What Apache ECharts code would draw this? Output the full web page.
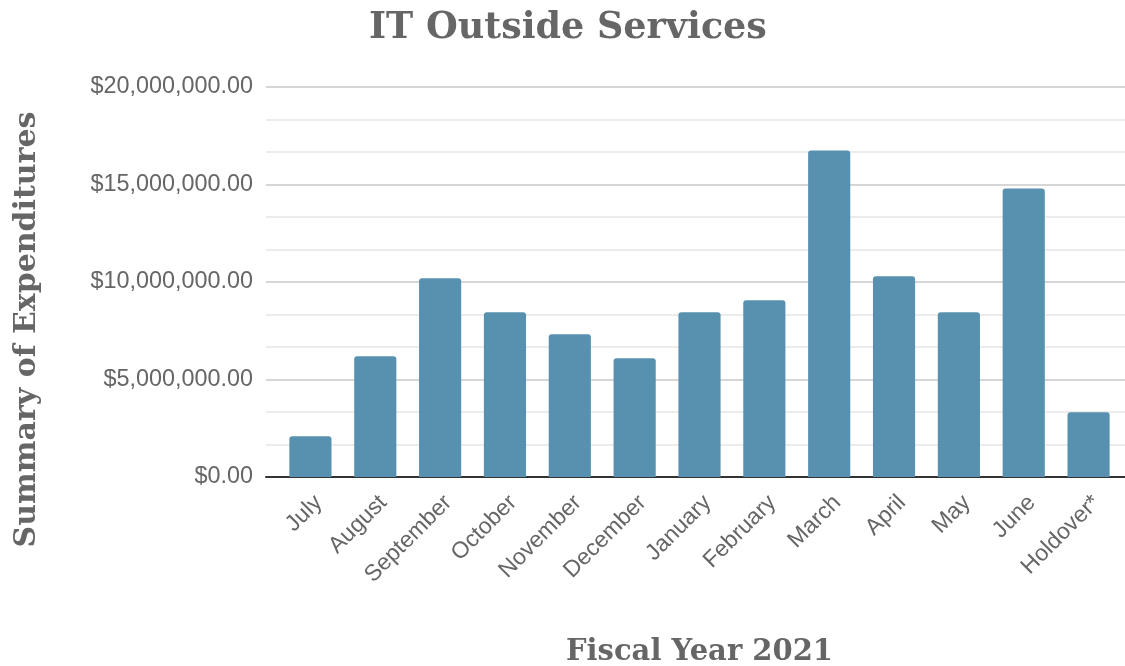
<!DOCTYPE html>
<html><head><meta charset="utf-8">
<script src="https://cdn.jsdelivr.net/npm/echarts@6/dist/echarts.min.js"></script>
<style>html,body{margin:0;padding:0;background:#fff}#c{width:1125px;height:666px}</style>
</head><body><div id="c"></div>
<script>
var categories = ["July","August","September","October","November","December","January","February","March","April","May","June","Holdover*"];
var expenditures = [2090000,6190000,10190000,8450000,7320000,6090000,8450000,9060000,16750000,10290000,8450000,14800000,3320000];
var yTicks = [0,5000000,10000000,15000000,20000000];

function fmt(v){
  return '$' + v.toLocaleString('en-US',{minimumFractionDigits:2,maximumFractionDigits:2});
}
var yMin = yTicks[0], yMax = yTicks[yTicks.length-1];
var chart = echarts.init(document.getElementById('c'));
chart.setOption({
  animation:false,
  title:{text:'IT Outside Services',left:364,top:5,
    textStyle:{fontFamily:'DejaVu Serif',fontWeight:'bold',fontSize:36.5,color:'#666'}},
  grid:[
    {left:266,right:0,top:87,bottom:189,containLabel:false,outerBoundsMode:'none'},
    {left:278,right:4,top:87,bottom:189,containLabel:false,outerBoundsMode:'none'}
  ],
  xAxis:[
    {type:'value',gridIndex:0,min:0,max:1,
      axisLine:{show:true,onZero:false,lineStyle:{color:'#333',width:2}},
      axisTick:{show:false},axisLabel:{show:false},splitLine:{show:false}},
    {type:'category',gridIndex:1,data:categories,
      name:'Fiscal Year 2021',nameLocation:'middle',nameGap:161,
      nameTextStyle:{fontFamily:'DejaVu Serif',fontWeight:'bold',fontSize:29,color:'#666'},
      axisLine:{show:false},axisTick:{show:false},
      axisLabel:{rotate:45,interval:0,fontFamily:'Liberation Sans',fontSize:23,color:'#666',margin:14,verticalAlign:'top'}}
  ],
  yAxis:[
    {type:'value',gridIndex:0,min:yMin,max:yMax,interval:5000000,
      name:'Summary of Expenditures',nameLocation:'middle',nameGap:224,
      nameTextStyle:{fontFamily:'DejaVu Serif',fontWeight:'bold',fontSize:30,color:'#666',padding:[0,95,0,0]},
      axisLine:{show:false},axisTick:{show:false},
      axisLabel:{formatter:fmt,fontFamily:'Liberation Sans',fontSize:23.4,color:'#666',margin:13},
      splitLine:{lineStyle:{color:'#c8c8c8',width:1.5}},
      minorTick:{show:false,splitNumber:3},
      minorSplitLine:{show:true,lineStyle:{color:'#e6e6e6',width:1.5}}},
    {type:'value',gridIndex:1,min:yMin,max:yMax,interval:5000000,show:false,
      splitLine:{show:false}}
  ],
  series:[{type:'bar',xAxisIndex:1,yAxisIndex:1,data:expenditures,barCategoryGap:'35%',z:3,
    itemStyle:{color:'#5891af',borderRadius:[3,3,0,0]}}]
});
</script></body></html>
